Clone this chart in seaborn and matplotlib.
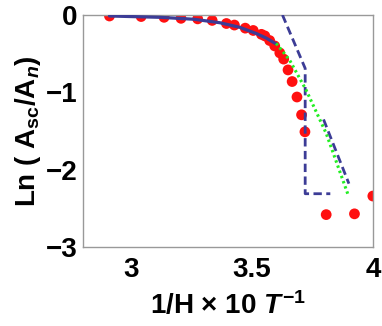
import matplotlib
matplotlib.use("Agg")
import matplotlib.pyplot as plt
import seaborn as sns

sns.set_style("white")
plt.rcParams['font.family'] = ['Liberation Sans', 'DejaVu Sans']
plt.rcParams['font.weight'] = 'bold'
plt.rcParams['mathtext.fontset'] = 'custom'
plt.rcParams['mathtext.rm'] = 'Liberation Sans:bold'
plt.rcParams['mathtext.bf'] = 'Liberation Sans:bold'
plt.rcParams['mathtext.it'] = 'Liberation Sans:italic:bold'
plt.rcParams['text.color'] = 'black'
plt.rcParams['axes.labelcolor'] = 'black'
plt.rcParams['xtick.color'] = 'black'
plt.rcParams['ytick.color'] = 'black'

# measured points
inv_h = [2.91, 3.041, 3.136, 3.206, 3.275, 3.335, 3.394, 3.427, 3.472, 3.505,
         3.539, 3.553, 3.573, 3.594, 3.615, 3.631, 3.649, 3.666, 3.686, 3.705,
         3.719, 3.807, 3.924, 4.0]
ln_a = [-0.013, -0.02, -0.03, -0.043, -0.05, -0.07, -0.11, -0.13, -0.17, -0.20,
        -0.25, -0.27, -0.33, -0.40, -0.49, -0.57, -0.71, -0.86, -1.06, -1.29,
        -1.51, -2.58, -2.57, -2.34]

# solid fit
fit_x = [2.91, 3.12, 3.26, 3.367, 3.45, 3.518, 3.56, 3.60]
fit_y = [-0.013, -0.03, -0.055, -0.10, -0.16, -0.24, -0.30, -0.375]

# dashed step model
step_x = [3.626, 3.72, 3.72, 3.824]
step_y = [0.0, -0.69, -2.31, -2.31]

# dashed second segment
seg_x = [3.796, 3.901]
seg_y = [-1.35, -2.18]

# green dotted
dot_x = [3.600, 3.655, 3.724, 3.807, 3.896]
dot_y = [-0.367, -0.58, -0.97, -1.53, -2.31]

blue = '#3c3c96'

fig = plt.figure(figsize=(3.82, 3.26), dpi=100)
ax = fig.add_axes([0.217, 0.242, 0.759, 0.712])

sns.scatterplot(x=inv_h, y=ln_a, color='#ff1010', s=60, edgecolor='none', ax=ax, zorder=2)
sns.lineplot(x=fit_x, y=fit_y, color=blue, lw=2.3, ax=ax, estimator=None, sort=False, zorder=3)
sns.lineplot(x=step_x, y=step_y, color=blue, lw=2.0, ax=ax, estimator=None, sort=False,
             linestyle=(0, (3.0, 1.6)), zorder=3)
sns.lineplot(x=seg_x, y=seg_y, color=blue, lw=2.0, ax=ax, estimator=None, sort=False,
             linestyle=(0, (3.0, 1.6)), zorder=3)
sns.lineplot(x=dot_x, y=dot_y, color='#22ee22', lw=2.2, ax=ax, estimator=None, sort=False,
             linestyle=(0, (0.8, 1.0)), zorder=4)
for c in ax.collections:
    c.set_clip_on(True)
    c.set_clip_path(ax.patch)

ax.set_xlim(2.8, 4.0)
ax.set_ylim(-3, 0)
ax.set_xticks([3, 3.5, 4])
ax.set_xticklabels(['3', '3.5', '4'])
ax.set_yticks([0, -1, -2, -3])
ax.set_yticklabels(['0', '\u22121', '\u22122', '\u22123'])
ax.tick_params(axis='both', direction='in', length=4, color='#999999', labelsize=20, pad=4)
ax.tick_params(axis='x', pad=7)
for s in ax.spines.values():
    s.set_color('#999999')
    s.set_linewidth(1.0)

ax.set_xlabel('1/H \u00d7 10 $T^{-1}$', fontsize=20, fontweight='bold', labelpad=6)
ax.set_ylabel(r'Ln ( $\mathrm{A}_{\mathrm{sc}}/\mathrm{A}_{n}$)', fontsize=20, fontweight='bold', labelpad=2)

fig.savefig('out.png', dpi=100)
